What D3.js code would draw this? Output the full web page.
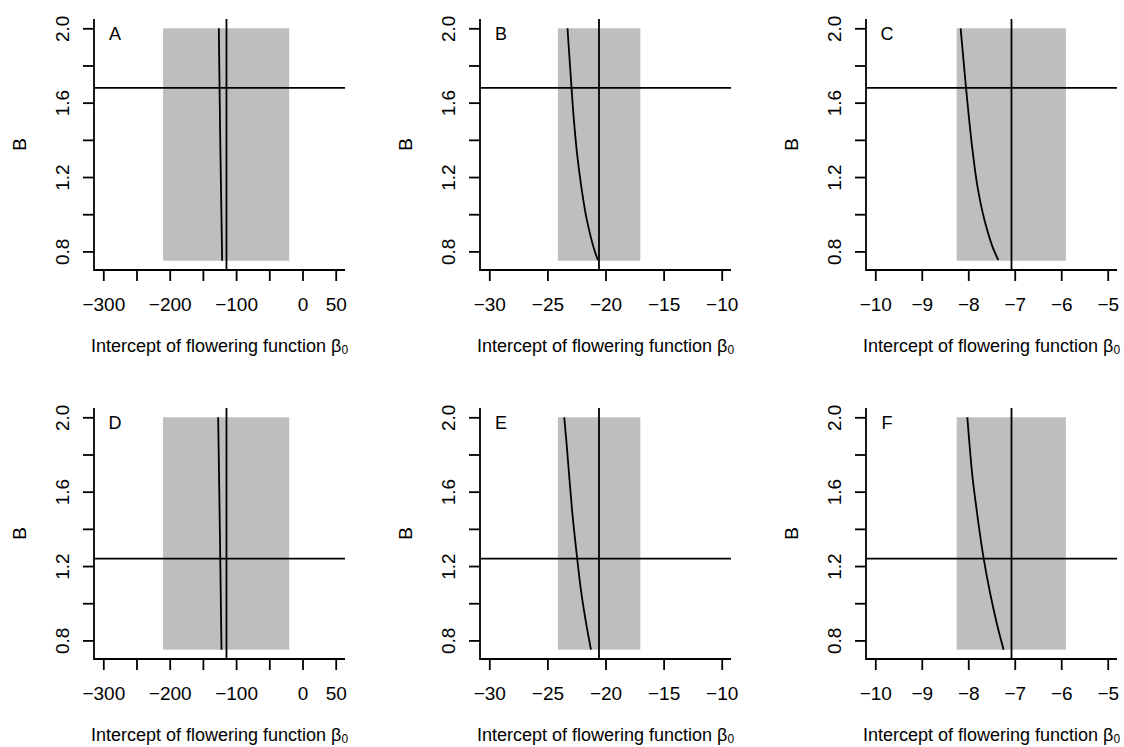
<!DOCTYPE html>
<html lang="en">
<head>
<meta charset="utf-8">
<title>Intercept of flowering function</title>
<script src="https://d3js.org/d3.v7.min.js"></script>
<style>
  body { margin: 0; background: #fff; }
  text { font-family: "Liberation Sans", Arial, Helvetica, sans-serif; fill: #000; }
</style>
</head>
<body>
<script>
var width = 1124, height = 747;

// panel letters, row by row
var panelLetters = ["A", "B", "C", "D", "E", "F"];

// x axis per column
var xDomains = [[-300, 50], [-30, -10], [-10, -5]];
var xTicks = [
  [-300, -250, -200, -150, -100, -50, 0, 50],
  [-30, -25, -20, -15, -10],
  [-10, -9, -8, -7, -6, -5]
];
var xTickLabels = [
  [-300, -200, -100, 0, 50],
  [-30, -25, -20, -15, -10],
  [-10, -9, -8, -7, -6, -5]
];

// y axis, same for all panels
var yDomain = [0.75, 2.0];
var yTicks = [0.8, 1.0, 1.2, 1.4, 1.6, 1.8, 2.0];
var yTickLabels = [0.8, 1.2, 1.6, 2.0];

// grey band: x range per column, y range shared
var bandX = [[-210, -20], [-24.1, -17.0], [-8.25, -5.9]];
var bandY = [0.75, 2.0];

// reference lines
var vLines = [-114.5, -20.56, -7.07]; // per column
var hLines = [1.68, 1.24];            // per row

// curves: [B, beta0]
var curveA = [[2.0, -126], [1.375, -123.8], [0.75, -121]];
var curveB = [[2.0, -23.27], [1.685, -22.93], [1.506, -22.72], [1.327, -22.45], [1.147, -22.08], [0.968, -21.6], [0.789, -20.86], [0.753, -20.65]];
var curveC = [[2.0, -8.164], [1.685, -8.05], [1.506, -7.98], [1.327, -7.9], [1.147, -7.8], [0.968, -7.65], [0.789, -7.42], [0.753, -7.352]];
var curveD = [[2.0, -127], [1.375, -124.4], [0.75, -122]];
var curveE = [[2.0, -23.55], [1.86, -23.35], [1.681, -23.12], [1.502, -22.88], [1.243, -22.44], [1.055, -22.08], [0.875, -21.62], [0.75, -21.25]];
var curveF = [[2.0, -8.02], [1.86, -7.975], [1.681, -7.91], [1.502, -7.82], [1.243, -7.67], [1.055, -7.53], [0.875, -7.37], [0.75, -7.24]];
var curves = [curveA, curveB, curveC, curveD, curveE, curveF];

var svg = d3.select("body").append("svg")
    .attr("width", width)
    .attr("height", height);

// plot regions
var colLeft = [94, 480, 866];
var rowTop = [19, 408];
var pw = 251, ph = 251;
var lw = 1.8;

// R style 4% padding of the axis range
function pad(d) {
    var r = d[1] - d[0];
    return [d[0] - 0.04 * r, d[1] + 0.04 * r];
}

var fmtX = d3.format("");
var fmtY = d3.format(".1f");

panelLetters.forEach(function(letter, i) {
    var col = i % 3, row = Math.floor(i / 3);

    var x = d3.scaleLinear().domain(pad(xDomains[col])).range([0, pw]);
    var y = d3.scaleLinear().domain(pad(yDomain)).range([ph, 0]);

    var g = svg.append("g")
        .attr("transform", "translate(" + colLeft[col] + "," + rowTop[row] + ")");

    g.append("rect")
        .attr("x", x(bandX[col][0]))
        .attr("width", x(bandX[col][1]) - x(bandX[col][0]))
        .attr("y", y(bandY[1]))
        .attr("height", y(bandY[0]) - y(bandY[1]))
        .attr("fill", "#bebebe");

    g.append("path")
        .datum(curves[i])
        .attr("fill", "none")
        .attr("stroke", "#000")
        .attr("stroke-width", lw)
        .attr("d", d3.line()
            .x(function(d) { return x(d[1]); })
            .y(function(d) { return y(d[0]); })
            .curve(d3.curveMonotoneY));

    g.append("line")
        .attr("x1", x(vLines[col])).attr("x2", x(vLines[col]))
        .attr("y1", 0).attr("y2", ph)
        .attr("stroke", "#000").attr("stroke-width", lw);

    g.append("line")
        .attr("x1", 0).attr("x2", pw)
        .attr("y1", y(hLines[row])).attr("y2", y(hLines[row]))
        .attr("stroke", "#000").attr("stroke-width", lw);

    // x axis
    var gx = g.append("g")
        .attr("transform", "translate(0," + ph + ")")
        .call(d3.axisBottom(x)
            .tickValues(xTicks[col])
            .tickSize(11)
            .tickFormat(function(d) { return xTickLabels[col].indexOf(d) >= 0 ? fmtX(d) : ""; }));
    gx.select(".domain").remove();
    gx.selectAll("line").attr("stroke-width", lw);
    gx.attr("font-size", 19).attr("font-family", null);
    gx.selectAll("text")
        .attr("y", 34)
        .attr("dy", "0.35em");

    // y axis
    var gy = g.append("g")
        .call(d3.axisLeft(y)
            .tickValues(yTicks)
            .tickSize(11)
            .tickFormat(function(d) { return yTickLabels.indexOf(d) >= 0 ? fmtY(d) : ""; }));
    gy.select(".domain").remove();
    gy.selectAll("line").attr("stroke-width", lw);
    gy.attr("font-size", 19).attr("font-family", null);
    gy.selectAll("text")
        .attr("x", null)
        .attr("text-anchor", "middle")
        .attr("transform", "translate(-32,0) rotate(-90)")
        .attr("dy", "0.35em");

    // L-shaped box
    g.append("path")
        .attr("d", "M0,0V" + ph + "H" + pw)
        .attr("fill", "none")
        .attr("stroke", "#000")
        .attr("stroke-width", lw);

    // y label
    g.append("text")
        .attr("transform", "translate(-75," + (ph / 2) + ") rotate(-90)")
        .attr("text-anchor", "middle")
        .attr("dy", "0.35em")
        .attr("font-size", 19)
        .text("B");

    // x title
    var t = g.append("text")
        .attr("x", pw / 2)
        .attr("y", ph + 76)
        .attr("dy", "0.35em")
        .attr("text-anchor", "middle")
        .attr("font-size", 18);
    t.append("tspan").text("Intercept of flowering function β");
    t.append("tspan").attr("font-size", 12).attr("dy", 1.5).text("0");

    // panel letter
    g.append("text")
        .attr("x", 21)
        .attr("y", 14.5)
        .attr("dy", "0.35em")
        .attr("text-anchor", "middle")
        .attr("font-size", 18)
        .text(letter);
});
</script>
</body>
</html>
